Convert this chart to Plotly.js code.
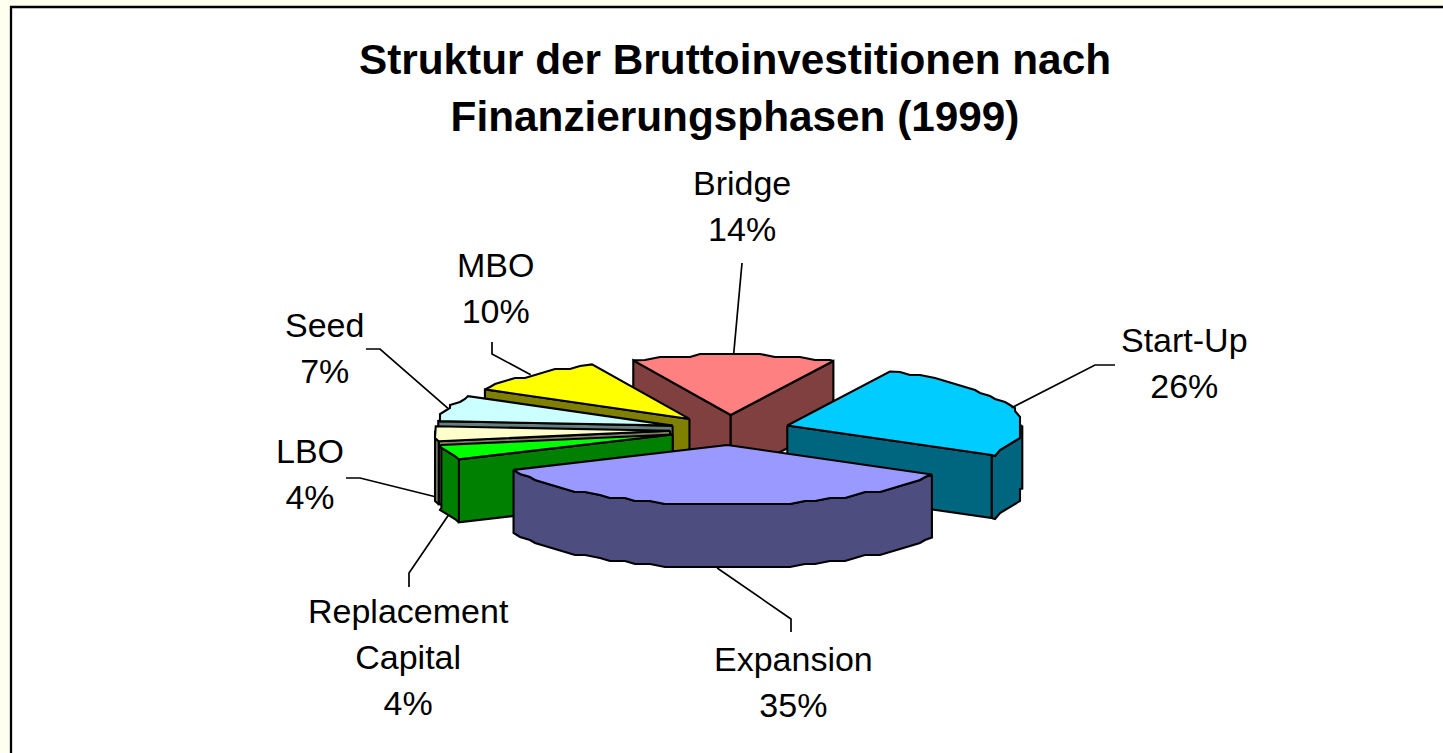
<!DOCTYPE html>
<html>
<head>
<meta charset="utf-8">
<script src="https://cdn.plot.ly/plotly-3.0.1.min.js"></script>
<style>html,body{margin:0;padding:0;background:#FFFFF0;overflow:hidden}</style>
</head>
<body>
<div id="chart" style="width:1443px;height:753px"></div>
<script>
const categories = ["Bridge", "Start-Up", "Expansion", "Replacement<br>Capital", "LBO", "Seed", "MBO"];
const values = [14, 26, 35, 4, 4, 7, 10];
const topColors = ["#FF8080", "#00CCFF", "#9999FF", "#00FF00", "#FFFFCC", "#CCFFFF", "#FFFF00"];
const wallColors = ["#804040", "#006680", "#4D4D80", "#008000", "#808066", "#668080", "#808000"];
const titleText = "Struktur der Bruttoinvestitionen nach<br>Finanzierungsphasen (1999)";

// label placement (page pixels = axis units): text centre, top of the first line, leader start and elbow
const labelX = [742, 1184, 793, 408, 310, 324, 495];
const labelY = [162, 319, 638, 590, 430, 304, 244];
const leaderStart = [[742, 263], [1115, 365], [791, 632], [409, 587], [346, 478], [366, 349], [492, 342]];
const leaderElbow = [null, [1095, 365], [791, 619], [409, 573], [360, 478], [380, 349], [492, 354]];

// pie projection
const cx = 730, cy = 430, rx = 235, ry = 60, depth = 63, explode = 60, startDeg = -24.5;
const rad = d => d * Math.PI / 180;
const total = values.reduce((a, b) => a + b, 0);

let acc = startDeg;
const slices = values.map((v, i) => {
  const a = acc, b = acc + v / total * 360;
  acc = b;
  const m = (a + b) / 2;
  return {i, a, b, m,
    ax: cx + explode * Math.sin(rad(m)),
    ay: cy - explode * 0.25 * Math.cos(rad(m))};
});

function rim(s, d) {
  return [s.ax + rx * Math.sin(rad(d)), s.ay - ry * Math.cos(rad(d))];
}
// faceted, low-resolution rim like the original raster
function arc(s, from, to) {
  const pts = [rim(s, from)];
  const step = 3.5;
  let d = Math.ceil(from / step + 1e-6) * step;
  for (; d < to - 1e-6; d += step) {
    const p = rim(s, d);
    pts.push([Math.round(p[0] / 5) * 5, Math.round(p[1] / 3) * 3]);
  }
  pts.push(rim(s, to));
  return pts;
}
function poly(pts, fill) {
  return {
    type: "scatter", mode: "lines", fill: "toself", fillcolor: fill,
    x: pts.concat([pts[0]]).map(p => p[0]),
    y: pts.concat([pts[0]]).map(p => p[1]),
    line: {color: "#000000", width: 2.1, shape: "linear"},
    hoverinfo: "skip", showlegend: false
  };
}
function down(p) { return [p[0], p[1] + depth]; }

const traces = [];
const order = slices.slice().sort((p, q) => Math.cos(rad(q.m)) - Math.cos(rad(p.m)));
order.forEach(s => {
  const wall = wallColors[s.i], apex = [s.ax, s.ay];
  const norm = x => ((x % 360) + 360) % 360;
  // radial side walls that face the viewer
  if (Math.sin(rad(s.a)) < 0) {
    const e = rim(s, s.a);
    traces.push(poly([apex, e, down(e), down(apex)], wall));
  }
  if (Math.sin(rad(s.b)) > 0) {
    const e = rim(s, s.b);
    traces.push(poly([apex, e, down(e), down(apex)], wall));
  }
  // outer rim wall (front half, 90..270 degrees)
  const lo = Math.max(norm(s.a) <= norm(s.b) ? norm(s.a) : s.a, 90);
  const hi = Math.min(norm(s.a) <= norm(s.b) ? norm(s.b) : s.b, 270);
  if (hi > lo) {
    const r = arc(s, lo, hi);
    traces.push(poly(r.concat(r.slice().reverse().map(down)), wall));
  }
  // top face
  traces.push(poly([apex].concat(arc(s, s.a, s.b)), topColors[s.i]));
});

// leader lines run from the label to the rim point in the middle of each slice
slices.forEach(s => {
  const m = ((s.m % 360) + 360) % 360;
  const p = rim(s, s.m);
  const end = (m > 90 && m < 270) ? down(p) : p;
  const pts = [leaderStart[s.i]];
  if (leaderElbow[s.i]) pts.push(leaderElbow[s.i]);
  pts.push(end);
  traces.push({
    type: "scatter", mode: "lines",
    x: pts.map(q => q[0]), y: pts.map(q => q[1]),
    line: {color: "#000000", width: 1.7},
    hoverinfo: "skip", showlegend: false
  });
});

const font = "Liberation Sans, Arial, sans-serif";
const annotations = slices.map(s => ({
  xref: "x", yref: "y", x: labelX[s.i], y: labelY[s.i],
  xanchor: "center", yanchor: "top", align: "center", showarrow: false,
  text: categories[s.i] + "<br>" + values[s.i] + "%",
  font: {family: font, size: 34, color: "#000000"}
}));

const layout = {
  width: 1443, height: 753, autosize: false,
  margin: {l: 0, r: 0, t: 0, b: 0, pad: 0},
  paper_bgcolor: "#FFFFF0", plot_bgcolor: "rgba(0,0,0,0)",
  showlegend: false,
  title: {text: titleText, x: 735 / 1443, xanchor: "center", xref: "paper",
          y: 1 - 74 / 753, yanchor: "top", yref: "container",
          font: {family: font, size: 42.3, color: "#000000", weight: 700}},
  xaxis: {range: [0, 1443], visible: false, fixedrange: true},
  yaxis: {range: [753, 0], visible: false, fixedrange: true},
  shapes: [{type: "rect", xref: "x", yref: "y", x0: 11, y0: 7, x1: 1500, y1: 800,
            line: {color: "#000000", width: 2.3}, fillcolor: "#FFFFFF", layer: "below"}],
  annotations
};

Plotly.newPlot("chart", traces, layout, {displayModeBar: false, staticPlot: true}).then(gd => {
  // the original's line pitch differs from Plotly's fixed 1.3em
  const pitch = (sel, k) => gd.querySelectorAll(sel).forEach(t => {
    const dy = parseFloat(t.getAttribute("dy") || "0");
    if (dy) t.setAttribute("dy", (dy * k) + "em");
  });
  pitch(".gtitle tspan.line", 1.04);
  pitch(".annotation-text tspan.line", 1.04);
});
</script>
</body>
</html>
